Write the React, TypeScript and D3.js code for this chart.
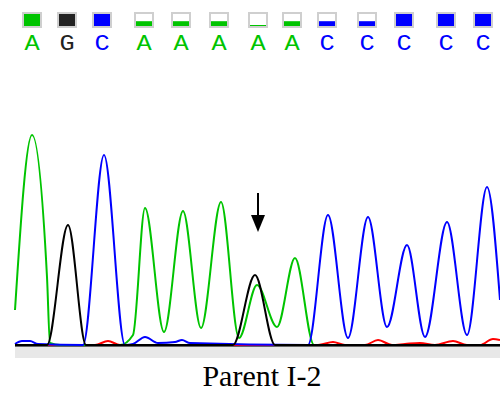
import React from 'react';
import * as d3 from 'd3';

// base calls across the top
const bases = ['A', 'G', 'C', 'A', 'A', 'A', 'A', 'A', 'C', 'C', 'C', 'C', 'C'];
const basePos = [34, 104, 174, 258, 332, 408, 486, 554, 624, 704, 778, 862, 936];
const baseQual = [1, 1, 1, 0.4, 0.4, 0.4, 0.08, 0.4, 0.4, 0.4, 1, 1, 1];
const markedBase = 6; // the arrow

// trace key points: [scan, signal]
const greenTrace: [number, number][] = [
  [0, 175], [34, 1050], [64, 340], [70, 10], [90, 0], [210, 0], [236, 50],
  [260, 685], [298, 65], [336, 670], [372, 85], [412, 715], [448, 35],
  [484, 300], [524, 90], [560, 435], [598, 0], [970, 0],
];
const blackTrace: [number, number][] = [
  [0, 0], [64, 0], [106, 600], [142, 0], [436, 0], [480, 350], [520, 0], [970, 0],
];
const blueTrace: [number, number][] = [
  [0, 5], [14, 20], [30, 20], [46, 5], [136, 0], [178, 950], [220, 0],
  [236, 5], [260, 40], [286, 10], [320, 15], [334, 25], [350, 10], [586, 0],
  [626, 650], [666, 35], [706, 640], [744, 90], [784, 500], [820, 40],
  [864, 615], [904, 50], [944, 790], [970, 225],
];
const redTrace: [number, number][] = [
  [0, 0], [160, 0], [186, 20], [210, 0], [606, 0], [636, 15], [660, 0],
  [700, 0], [726, 25], [754, 0], [780, 5], [810, 10], [840, 0], [876, 20],
  [904, 0], [930, 0], [956, 30], [970, 25],
];

const GREEN = '#00c400';
const BLUE = '#0000ff';
const BLACK = '#000000';
const RED = '#ff0000';
const baseColor: Record<string, string> = { A: GREEN, G: '#222222', C: BLUE };

export default function App() {
  const x = d3.scaleLinear().domain([0, 970]).range([15, 500]);
  const y = d3.scaleLinear().domain([0, 1050]).range([345, 135]);

  const trace = d3
    .line<[number, number]>()
    .x(d => x(d[0]))
    .y(d => y(d[1]))
    .curve(d3.curveMonotoneX);

  const channels = [
    { data: redTrace, color: RED },
    { data: greenTrace, color: GREEN },
    { data: blueTrace, color: BLUE },
    { data: blackTrace, color: BLACK },
  ];

  const sqW = 18;
  const sqH = 14;
  const ax = x(basePos[markedBase]);

  return (
    <svg
      width={500}
      height={393}
      style={{ position: 'absolute', left: 0, top: 0, background: '#fff' }}
    >
      {/* base call boxes + letters */}
      {bases.map((b, i) => {
        const cx = x(basePos[i]);
        const fillH = Math.max(1, (sqH - 2) * baseQual[i]);
        return (
          <g key={i}>
            <rect
              x={cx - sqW / 2}
              y={13}
              width={sqW}
              height={sqH}
              fill="#fff"
              stroke="#cfcfcf"
              strokeWidth={2}
            />
            <rect
              x={cx - sqW / 2 + 1}
              y={13 + sqH - 1 - fillH}
              width={sqW - 2}
              height={fillH}
              fill={baseColor[b]}
            />
            <text
              x={cx}
              y={50}
              textAnchor="middle"
              fontFamily="Liberation Mono, monospace"
              fontSize={22}
              fill={baseColor[b]}
              transform={`translate(${cx},0) scale(1.15,1) translate(${-cx},0)`}
            >
              {b}
            </text>
          </g>
        );
      })}

      {/* bottom band */}
      <rect x={15} y={347} width={485} height={11} fill="#e8e8e8" />
      <line x1={15} x2={500} y1={346} y2={346} stroke="#333" strokeWidth={1.5} />

      {/* traces */}
      {channels.map((c, i) => (
        <path
          key={i}
          d={trace(c.data) || ''}
          fill="none"
          stroke={c.color}
          strokeWidth={2}
          strokeLinejoin="round"
        />
      ))}

      {/* arrow */}
      <line x1={ax} x2={ax} y1={193} y2={218} stroke="#000" strokeWidth={2} />
      <path d={`M${ax - 7},215 L${ax + 7},215 L${ax},232 Z`} fill="#000" />

      <text
        x={262}
        y={386}
        textAnchor="middle"
        fontFamily="Liberation Serif, Times New Roman, serif"
        fontSize={30}
        fill="#000"
      >
        Parent I-2
      </text>
    </svg>
  );
}
